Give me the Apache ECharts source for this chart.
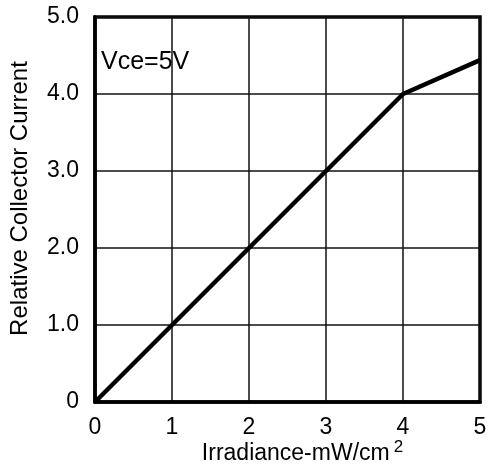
<!DOCTYPE html>
<html>
<head>
<meta charset="utf-8">
<script src="https://cdn.jsdelivr.net/npm/echarts@6/dist/echarts.min.js"></script>
<style>
  html, body { margin: 0; padding: 0; background: #fff; }
  #main { width: 490px; height: 468px; }
</style>
</head>
<body>
<div id="main"></div>
<script>
// irradiance (mW/cm2) vs relative collector current
var irradiance = [0, 1, 2, 3, 4, 5];
var relCurrent = [0, 1, 2, 3, 4, 4.44];
var note = 'Vce=5V';

var font = 'Arial, "Liberation Sans", sans-serif';
var points = irradiance.map(function (x, i) { return [x, relCurrent[i]]; });

var chart = echarts.init(document.getElementById('main'));
chart.setOption({
    animation: false,
    backgroundColor: '#fff',
    grid: {
        left: 95, right: 10, top: 17, bottom: 66,
        outerBoundsMode: 'none',
        containLabel: false,
        show: true,
        borderColor: '#000',
        borderWidth: 3.5
    },
    xAxis: {
        type: 'value',
        min: 0, max: 5, interval: 1,
        name: 'Irradiance-mW/cm{sup|2}',
        nameLocation: 'middle',
        nameMoveOverlap: false,
        nameGap: 37,
        nameTextStyle: {
            color: '#000', fontSize: 23, fontFamily: font,
            padding: [0, 0, 0, 30],
            rich: {
                sup: { fontSize: 17, fontFamily: font, color: '#000', padding: [0, 0, 12, 4] }
            }
        },
        axisLine: { lineStyle: { color: '#000', width: 3.5 } },
        axisTick: { show: false },
        axisLabel: { color: '#000', fontSize: 23, fontFamily: font, margin: 14 },
        splitLine: { lineStyle: { color: '#111', width: 1.5 } }
    },
    yAxis: {
        type: 'value',
        min: 0, max: 5, interval: 1,
        name: 'Relative Collector Current',
        nameLocation: 'middle',
        nameMoveOverlap: false,
        nameGap: 63,
        nameTextStyle: {
            color: '#000', fontSize: 24, fontFamily: font,
            padding: [0, 0, 0, 22]
        },
        axisLine: { lineStyle: { color: '#000', width: 3.5 } },
        axisTick: { show: false },
        axisLabel: {
            color: '#000', fontSize: 23, fontFamily: font, margin: 16,
            formatter: function (v) { return v === 0 ? '0' : v.toFixed(1); }
        },
        splitLine: { lineStyle: { color: '#111', width: 1.5 } }
    },
    graphic: [{
        type: 'text',
        left: 101, top: 50,
        style: { text: note, fill: '#000', fontSize: 25, fontFamily: font }
    }],
    series: [{
        type: 'line',
        data: points,
        showSymbol: false,
        lineStyle: { color: '#000', width: 4.5 }
    }]
});
</script>
</body>
</html>
